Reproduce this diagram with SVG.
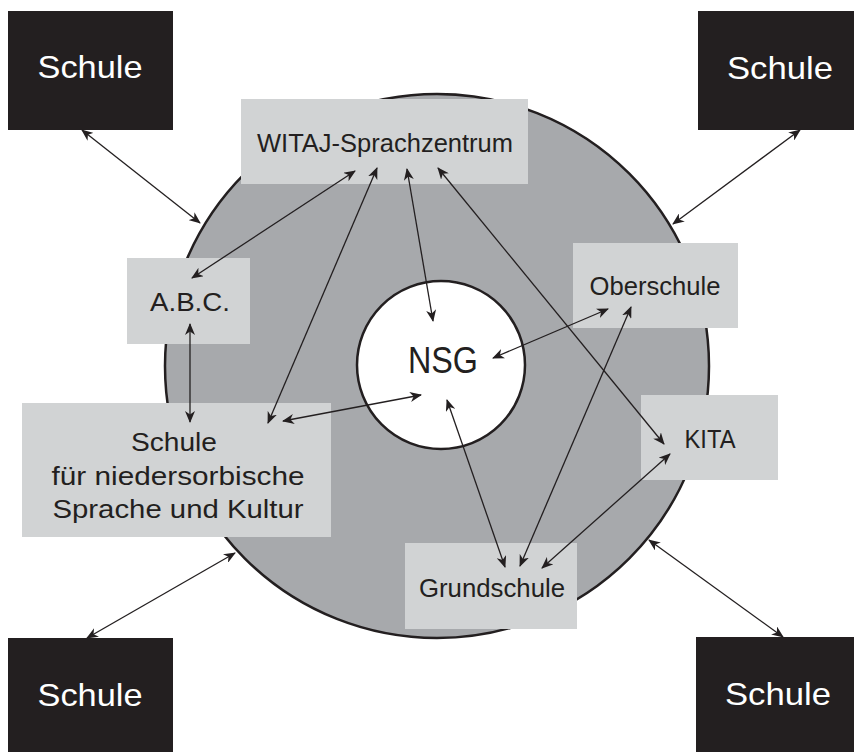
<svg xmlns="http://www.w3.org/2000/svg" width="854" height="752" viewBox="0 0 854 752">
<style>
.dark{fill:#231f20}
.light{fill:#d1d3d4}
.t{font-family:"Liberation Sans",Arial,sans-serif;fill:#231f20;text-anchor:middle}
.tw{font-family:"Liberation Sans",Arial,sans-serif;fill:#ffffff;text-anchor:middle}
.c{stroke:#231f20;stroke-width:1.3;fill:none;marker-start:url(#ah);marker-end:url(#ah)}
</style>
<defs>
<marker id="ah" viewBox="0 0 12 10" refX="11" refY="5" markerWidth="12" markerHeight="10" markerUnits="userSpaceOnUse" orient="auto-start-reverse">
<path d="M0,0 L12,5 L0,10 L3.5,5 z" fill="#231f20"/>
</marker>
</defs>
<rect width="854" height="752" fill="#ffffff"/>
<g id="ring">
<circle cx="437" cy="366" r="272" fill="#a7a9ac" stroke="#231f20" stroke-width="2.5"/>
</g>
<g id="nsg">
<circle cx="441" cy="365" r="84" fill="#ffffff" stroke="#231f20" stroke-width="2.5"/>
<text class="t" x="443" y="373" font-size="36" textLength="70" lengthAdjust="spacingAndGlyphs">NSG</text>
</g>
<g id="witaj">
<rect class="light" x="241" y="99" width="287" height="85"/>
<text class="t" x="385" y="152" font-size="25" textLength="256" lengthAdjust="spacingAndGlyphs">WITAJ-Sprachzentrum</text>
</g>
<g id="abc">
<rect class="light" x="127" y="258" width="123" height="86"/>
<text class="t" x="190" y="311" font-size="25" textLength="80" lengthAdjust="spacingAndGlyphs">A.B.C.</text>
</g>
<g id="schule-nsk">
<rect class="light" x="22" y="403" width="309" height="134"/>
<text class="t" x="174" y="451" font-size="25" textLength="86" lengthAdjust="spacingAndGlyphs">Schule</text>
<text class="t" x="178" y="485" font-size="25" textLength="253" lengthAdjust="spacingAndGlyphs">für niedersorbische</text>
<text class="t" x="178" y="518" font-size="25" textLength="251" lengthAdjust="spacingAndGlyphs">Sprache und Kultur</text>
</g>
<g id="oberschule">
<rect class="light" x="573" y="243" width="165" height="85"/>
<text class="t" x="655" y="295" font-size="25" textLength="131" lengthAdjust="spacingAndGlyphs">Oberschule</text>
</g>
<g id="kita">
<rect class="light" x="641" y="395" width="137" height="85"/>
<text class="t" x="710" y="448" font-size="25" textLength="51" lengthAdjust="spacingAndGlyphs">KITA</text>
</g>
<g id="grundschule">
<rect class="light" x="405" y="543" width="172" height="86"/>
<text class="t" x="492" y="597" font-size="25" textLength="146" lengthAdjust="spacingAndGlyphs">Grundschule</text>
</g>
<g id="schule-tl">
<rect class="dark" x="8" y="11" width="165" height="119"/>
<text class="tw" x="90" y="78" font-size="32" textLength="105" lengthAdjust="spacingAndGlyphs">Schule</text>
</g>
<g id="schule-tr">
<rect class="dark" x="698" y="11" width="156" height="119"/>
<text class="tw" x="780" y="79" font-size="32" textLength="106" lengthAdjust="spacingAndGlyphs">Schule</text>
</g>
<g id="schule-bl">
<rect class="dark" x="8" y="638" width="165" height="114"/>
<text class="tw" x="90" y="706" font-size="32" textLength="105" lengthAdjust="spacingAndGlyphs">Schule</text>
</g>
<g id="schule-br">
<rect class="dark" x="696" y="637" width="158" height="115"/>
<text class="tw" x="778" y="705" font-size="32" textLength="106" lengthAdjust="spacingAndGlyphs">Schule</text>
</g>
<g id="connectors">
<line class="c" x1="82" y1="130" x2="200" y2="223"/>
<line class="c" x1="800" y1="130" x2="673" y2="224"/>
<line class="c" x1="87" y1="638" x2="235" y2="553"/>
<line class="c" x1="649" y1="540" x2="783" y2="637"/>
<line class="c" x1="355" y1="171" x2="192" y2="278"/>
<line class="c" x1="377" y1="168" x2="268" y2="423"/>
<line class="c" x1="407" y1="169" x2="433" y2="321"/>
<line class="c" x1="438" y1="168" x2="664" y2="444"/>
<line class="c" x1="190" y1="324" x2="190" y2="422"/>
<line class="c" x1="283" y1="421" x2="421" y2="395"/>
<line class="c" x1="493" y1="358" x2="608" y2="309"/>
<line class="c" x1="447" y1="400" x2="505" y2="567"/>
<line class="c" x1="631" y1="307" x2="520" y2="566"/>
<line class="c" x1="670" y1="454" x2="542" y2="568"/>
</g>
</svg>
